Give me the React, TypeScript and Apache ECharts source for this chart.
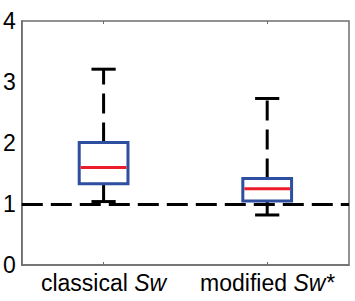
import React, { useEffect, useRef } from "react";
import * as echarts from "echarts";

const categories = ["classical Sw", "modified Sw*"];
const lowWhisker = [1.04, 0.82];
const q1 = [1.33, 1.05];
const median = [1.6, 1.25];
const q3 = [2.01, 1.42];
const highWhisker = [3.21, 2.73];
const referenceLevel = 1;
const yMin = 0;
const yMax = 4;
const yInterval = 1;

const FONT = "'Liberation Sans', Arial, Helvetica, sans-serif";
const BLUE = "#2E4FA0";
const RED = "#EC1C2A";
const AXIS = "#6e6e6e";

export default function App() {
  const ref = useRef<HTMLDivElement>(null);
  useEffect(() => {
    if (!ref.current) return;
    const chart = echarts.init(ref.current, undefined, { renderer: "svg" });
    const data = categories.map((_, i) => [i, lowWhisker[i], q1[i], median[i], q3[i], highWhisker[i]]);
    const option: any = {
      animation: false,
      backgroundColor: "#ffffff",
      grid: { left: 19, right: 6, top: 21, bottom: 36, show: true, borderColor: AXIS, borderWidth: 1.5, backgroundColor: "transparent" },
      xAxis: [
        {
          type: "category",
          data: categories,
          boundaryGap: true,
          axisLine: { show: true, lineStyle: { color: AXIS, width: 1.5 } },
          axisTick: { show: true, inside: true, alignWithLabel: true, length: 3, lineStyle: { color: AXIS } },
          axisLabel: {
            interval: 0,
            hideOverlap: false,
            margin: 6,
            fontFamily: FONT,
            fontSize: 23,
            color: "#000",
            formatter: (v: string) => {
              const parts = v.split(" ");
              return parts[0] + " {it|" + parts.slice(1).join(" ") + "}";
            },
            rich: { it: { fontStyle: "italic", fontFamily: FONT, fontSize: 23, color: "#000" } },
          },
          splitLine: { show: false },
        },
        {
          type: "category",
          data: categories,
          position: "top",
          boundaryGap: true,
          axisLine: { show: false },
          axisTick: { show: true, inside: true, alignWithLabel: true, length: 3, lineStyle: { color: AXIS } },
          axisLabel: { show: false },
        },
      ],
      yAxis: {
        type: "value",
        min: yMin,
        max: yMax,
        interval: yInterval,
        axisLine: { show: true, lineStyle: { color: AXIS, width: 1.5 } },
        axisTick: { show: false },
        axisLabel: { margin: 6, fontFamily: FONT, fontSize: 23, color: "#000" },
        splitLine: { show: false },
      },
      series: [
        {
          type: "custom",
          data,
          encode: { x: 0, y: [1, 2, 3, 4, 5] },
          renderItem: (params: any, api: any) => {
            const x = api.value(0);
            const lo = api.coord([x, api.value(1)]);
            const b1 = api.coord([x, api.value(2)]);
            const md = api.coord([x, api.value(3)]);
            const b3 = api.coord([x, api.value(4)]);
            const hi = api.coord([x, api.value(5)]);
            const band = api.size([1, 0])[0];
            const halfBox = band * 0.149;
            const halfCap = band * 0.074;
            const cx = lo[0];
            const whisk = { stroke: "#000", lineWidth: 3, lineDash: [20, 9] };
            const cap = { stroke: "#000", lineWidth: 3 };
            return {
              type: "group",
              children: [
                { type: "line", shape: { x1: cx, y1: b3[1], x2: cx, y2: hi[1] }, style: whisk },
                { type: "line", shape: { x1: cx, y1: b1[1], x2: cx, y2: lo[1] }, style: whisk },
                { type: "line", shape: { x1: cx - halfCap, y1: hi[1], x2: cx + halfCap, y2: hi[1] }, style: cap },
                { type: "line", shape: { x1: cx - halfCap, y1: lo[1], x2: cx + halfCap, y2: lo[1] }, style: cap },
                {
                  type: "rect",
                  shape: { x: cx - halfBox, y: b3[1], width: halfBox * 2, height: b1[1] - b3[1] },
                  style: { fill: "none", stroke: BLUE, lineWidth: 3 },
                },
                { type: "line", shape: { x1: cx - halfBox + 1.5, y1: md[1], x2: cx + halfBox - 1.5, y2: md[1] }, style: { stroke: RED, lineWidth: 3 } },
              ],
            };
          },
          markLine: {
            silent: true,
            symbol: ["none", "none"],
            label: { show: false },
            lineStyle: { color: "#000", width: 3, type: [21, 8] },
            data: [{ yAxis: referenceLevel }],
          },
          z: 3,
        },
      ],
    };
    chart.setOption(option);
    return () => chart.dispose();
  }, []);
  return <div ref={ref} style={{ position: "fixed", left: 0, top: 0, width: 355, height: 301 }} />;
}
